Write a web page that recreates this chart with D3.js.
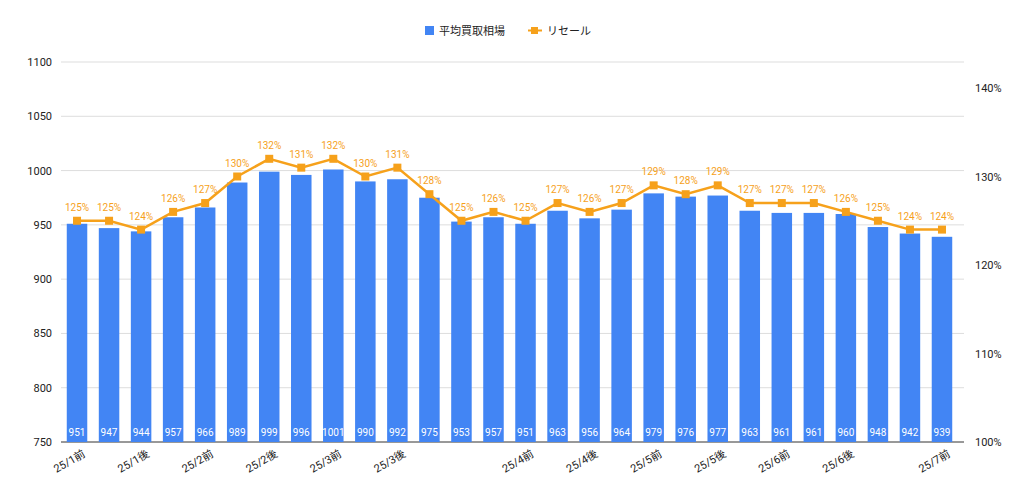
<!DOCTYPE html>
<html><head><meta charset="utf-8">
<script src="https://cdn.jsdelivr.net/npm/d3@7"></script>
<style>body{margin:0;background:#fff}svg{font-family:Roboto,"Noto Sans CJK JP",sans-serif}</style>
</head><body><svg id="c" width="1024" height="496"></svg>
<script>
const categories = ["25/1前","25/1前b","25/1後","25/1後b","25/2前","25/2前b","25/2後","25/2後b","25/3前","25/3前b","25/3後","25/3後b","25/3後c","25/4前a","25/4前","25/4前b","25/4後","25/4後b","25/5前","25/5前b","25/5後","25/5後b","25/6前","25/6前b","25/6後","25/6後b","25/6後c","25/7前"];
const shownTicks = {"25/1前":"25/1前","25/1後":"25/1後","25/2前":"25/2前","25/2後":"25/2後","25/3前":"25/3前","25/3後":"25/3後","25/4前":"25/4前","25/4後":"25/4後","25/5前":"25/5前","25/5後":"25/5後","25/6前":"25/6前","25/6後":"25/6後","25/7前":"25/7前"};
const avgPrice = [951,947,944,957,966,989,999,996,1001,990,992,975,953,957,951,963,956,964,979,976,977,963,961,961,960,948,942,939];
const resale = [125,125,124,126,127,130,132,131,132,130,131,128,125,126,125,127,126,127,129,128,129,127,127,127,126,125,124,124];
const leftTicks = [750,800,850,900,950,1000,1050,1100];
const rightTicks = [100,110,120,130,140];

const svg = d3.select("#c");
const L=61, R=958, T=62, B=442;
const blue="#4285f4", orange="#f6a11b";
const x = d3.scaleBand().domain(categories).range([L,R]).paddingInner(0.36).paddingOuter(0.18);
const y = d3.scaleLinear().domain([750,1100]).range([B,T]);
const y2 = d3.scaleLinear().domain([100,140]).range([B,88]);

svg.append("g").selectAll("line").data(leftTicks).join("line")
 .attr("x1",L).attr("x2",R+6).attr("y1",d=>y(d)).attr("y2",d=>y(d))
 .attr("stroke",d=>d===750?"#333":"#ddd").attr("stroke-width",1);
svg.append("g").selectAll("text").data(leftTicks).join("text")
 .attr("x",L-9).attr("y",d=>y(d)+4).attr("text-anchor","end").attr("font-size",11).attr("fill","#222").text(d=>d);
svg.append("g").selectAll("text").data(rightTicks).join("text")
 .attr("x",975).attr("y",d=>y2(d)+4).attr("font-size",11).attr("fill","#222").text(d=>d+"%");

svg.append("g").selectAll("rect").data(avgPrice).join("rect")
 .attr("x",(d,i)=>x(categories[i])).attr("width",x.bandwidth())
 .attr("y",d=>y(d)).attr("height",d=>B-y(d)).attr("fill",blue);
svg.append("g").selectAll("text").data(avgPrice).join("text")
 .attr("x",(d,i)=>x(categories[i])+x.bandwidth()/2).attr("y",B-6)
 .attr("text-anchor","middle").attr("font-size",10).attr("fill","#fff").text(d=>d);

const cx=i=>x(categories[i])+x.bandwidth()/2;
svg.append("path").datum(resale).attr("fill","none").attr("stroke",orange).attr("stroke-width",2.5)
 .attr("d",d3.line().x((d,i)=>cx(i)).y(d=>y2(d)));
svg.append("g").selectAll("rect").data(resale).join("rect")
 .attr("x",(d,i)=>cx(i)-4).attr("y",d=>y2(d)-4).attr("width",8).attr("height",8).attr("fill",orange);
svg.append("g").selectAll("text").data(resale).join("text")
 .attr("x",(d,i)=>cx(i)).attr("y",d=>y2(d)-10).attr("text-anchor","middle").attr("font-size",10).attr("fill",orange).text(d=>d+"%");

svg.append("g").selectAll("text").data(categories.filter(c=>shownTicks[c])).join("text")
 .attr("transform",c=>`translate(${x(c)+x.bandwidth()/2+9},${B+14}) rotate(-30)`)
 .attr("text-anchor","end").attr("font-size",11).attr("fill","#222").text(c=>shownTicks[c]);

const lg=svg.append("g");
lg.append("rect").attr("x",425).attr("y",26).attr("width",9).attr("height",9).attr("fill",blue);
lg.append("text").attr("x",439).attr("y",35).attr("font-size",11).attr("fill","#222").text("平均買取相場");
lg.append("line").attr("x1",528).attr("x2",542).attr("y1",30.5).attr("y2",30.5).attr("stroke",orange).attr("stroke-width",2);
lg.append("rect").attr("x",531).attr("y",27).attr("width",7).attr("height",7).attr("fill",orange);
lg.append("text").attr("x",547).attr("y",35).attr("font-size",11).attr("fill","#222").text("リセール");
</script></body></html>
